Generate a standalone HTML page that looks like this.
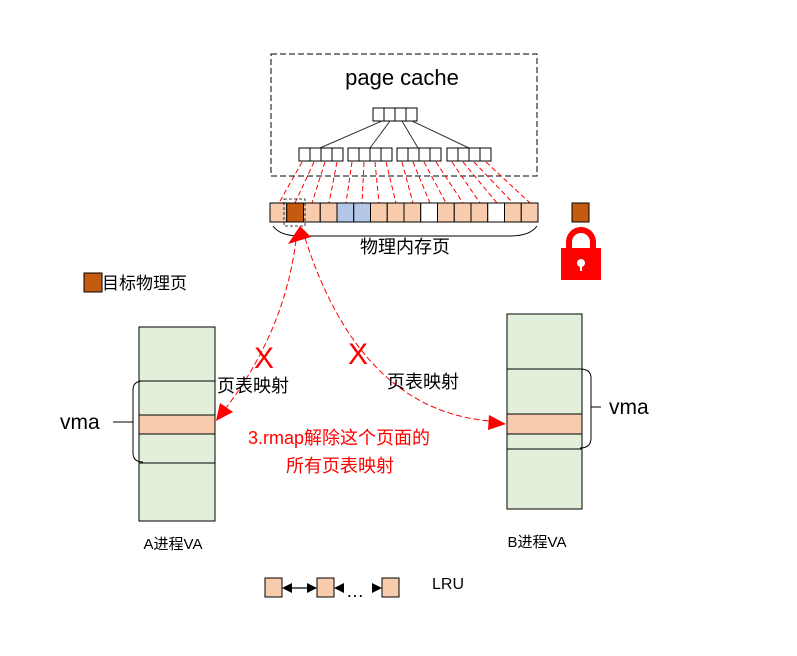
<!DOCTYPE html>
<html><head><meta charset="utf-8"><style>body{margin:0;background:#fff}</style></head><body>
<svg width="797" height="651" xmlns="http://www.w3.org/2000/svg" font-family="Liberation Sans, Noto Sans CJK SC, sans-serif">
<rect x="271" y="54" width="266" height="122" fill="none" stroke="#000" stroke-dasharray="6,3"/>
<text x="402" y="85" font-size="22" text-anchor="middle">page cache</text>
<g fill="#fff" stroke="#000">
<rect x="373" y="108" width="11" height="13"/><rect x="384" y="108" width="11" height="13"/><rect x="395" y="108" width="11" height="13"/><rect x="406" y="108" width="11" height="13"/>
</g>
<g stroke="#333"><line x1="382" y1="121" x2="320" y2="148"/><line x1="390" y1="121" x2="370" y2="148"/><line x1="402" y1="121" x2="418" y2="148"/><line x1="412" y1="121" x2="469" y2="148"/></g>
<g fill="#fff" stroke="#000">
<rect x="299" y="148" width="11" height="13"/><rect x="310" y="148" width="11" height="13"/><rect x="321" y="148" width="11" height="13"/><rect x="332" y="148" width="11" height="13"/>
<rect x="348" y="148" width="11" height="13"/><rect x="359" y="148" width="11" height="13"/><rect x="370" y="148" width="11" height="13"/><rect x="381" y="148" width="11" height="13"/>
<rect x="397" y="148" width="11" height="13"/><rect x="408" y="148" width="11" height="13"/><rect x="419" y="148" width="11" height="13"/><rect x="430" y="148" width="11" height="13"/>
<rect x="447" y="148" width="11" height="13"/><rect x="458" y="148" width="11" height="13"/><rect x="469" y="148" width="11" height="13"/><rect x="480" y="148" width="11" height="13"/>
</g>
<g stroke="#f00" stroke-dasharray="5,3" stroke-width="1">
<line x1="302" y1="162" x2="279" y2="203"/><line x1="314" y1="162" x2="295" y2="203"/><line x1="325" y1="162" x2="312" y2="203"/><line x1="337" y1="162" x2="329" y2="203"/>
<line x1="352" y1="162" x2="346" y2="203"/><line x1="364" y1="162" x2="362" y2="203"/><line x1="375" y1="162" x2="379" y2="203"/><line x1="386" y1="162" x2="396" y2="203"/>
<line x1="402" y1="162" x2="413" y2="203"/><line x1="413" y1="162" x2="430" y2="203"/><line x1="424" y1="162" x2="446" y2="203"/><line x1="436" y1="162" x2="463" y2="203"/>
<line x1="452" y1="162" x2="480" y2="203"/><line x1="463" y1="162" x2="497" y2="203"/><line x1="474" y1="162" x2="513" y2="203"/><line x1="486" y1="162" x2="530" y2="203"/>
</g>
<g stroke="#000">
<rect x="270" y="203" width="16.75" height="19" fill="#f8cbad"/>
<rect x="286.75" y="203" width="16.75" height="19" fill="#c55a11"/>
<rect x="303.5" y="203" width="16.75" height="19" fill="#f8cbad"/>
<rect x="320.25" y="203" width="16.75" height="19" fill="#f8cbad"/>
<rect x="337" y="203" width="16.75" height="19" fill="#b4c7e7"/>
<rect x="353.75" y="203" width="16.75" height="19" fill="#b4c7e7"/>
<rect x="370.5" y="203" width="16.75" height="19" fill="#f8cbad"/>
<rect x="387.25" y="203" width="16.75" height="19" fill="#f8cbad"/>
<rect x="404" y="203" width="16.75" height="19" fill="#f8cbad"/>
<rect x="420.75" y="203" width="16.75" height="19" fill="#fff"/>
<rect x="437.5" y="203" width="16.75" height="19" fill="#f8cbad"/>
<rect x="454.25" y="203" width="16.75" height="19" fill="#f8cbad"/>
<rect x="471" y="203" width="16.75" height="19" fill="#f8cbad"/>
<rect x="487.75" y="203" width="16.75" height="19" fill="#fff"/>
<rect x="504.5" y="203" width="16.75" height="19" fill="#f8cbad"/>
<rect x="521.25" y="203" width="16.75" height="19" fill="#f8cbad"/>
<rect x="572" y="203" width="17" height="19" fill="#c55a11"/>
</g>
<rect x="284" y="199" width="21" height="27" fill="none" stroke="#000" stroke-dasharray="3,2" stroke-width="0.8"/>
<path d="M273,226 Q280,236 300,236 L510,236 Q530,236 537,226" fill="none" stroke="#000"/>
<text x="405" y="253" font-size="18" text-anchor="middle">物理内存页</text>
<path d="M569,248 V242 A12,12 0 0 1 593,242 V248" fill="none" stroke="#f00" stroke-width="6"/>
<rect x="561" y="248" width="40" height="32" fill="#f00"/>
<circle cx="581" cy="263" r="4" fill="#fff"/><rect x="580" y="263" width="2" height="8" fill="#fff"/>
<rect x="84" y="273" width="18" height="19" fill="#c55a11" stroke="#000"/>
<text x="102" y="289" font-size="17">目标物理页</text>
<g stroke="#000">
<rect x="139" y="327" width="76" height="194" fill="#e2efda"/>
<rect x="139" y="415" width="76" height="19" fill="#f8cbad"/>
<line x1="139" y1="381" x2="215" y2="381"/><line x1="139" y1="463" x2="215" y2="463"/>
<rect x="507" y="314" width="75" height="195" fill="#e2efda"/>
<rect x="507" y="414" width="75" height="20" fill="#f8cbad"/>
<line x1="507" y1="369" x2="582" y2="369"/><line x1="507" y1="449" x2="582" y2="449"/>
</g>
<path d="M143,381 Q133,381 133,390 L133,453 Q133,462 143,462" fill="none" stroke="#000"/>
<line x1="113" y1="422" x2="133" y2="422" stroke="#000"/>
<path d="M580,369 Q591,369 591,378 L591,438 Q591,448 580,448" fill="none" stroke="#000"/>
<line x1="591" y1="407" x2="601" y2="407" stroke="#000"/>
<text x="60" y="429" font-size="21">vma</text>
<text x="609" y="414" font-size="21">vma</text>
<path d="M296,240 Q285,330 226,408" fill="none" stroke="#f00" stroke-dasharray="6,3"/>
<path d="M305,238 Q360,410 490,421" fill="none" stroke="#f00" stroke-dasharray="6,3"/>
<path d="M300,226 L288,244 L311,237 z" fill="#f00"/>
<path d="M216,421 L220,403 L233,412 z" fill="#f00"/>
<path d="M506,424 L489,415 L488,430 z" fill="#f00"/>
<text x="264" y="368" font-size="30" fill="#f00" text-anchor="middle">X</text>
<text x="358" y="364" font-size="30" fill="#f00" text-anchor="middle">X</text>
<text x="217" y="392" font-size="18">页表映射</text>
<text x="387" y="388" font-size="18">页表映射</text>
<text x="339" y="444" font-size="18" fill="#f00" text-anchor="middle">3.rmap解除这个页面的</text>
<text x="340" y="472" font-size="18" fill="#f00" text-anchor="middle">所有页表映射</text>
<text x="173" y="549" font-size="15" text-anchor="middle">A进程VA</text>
<text x="537" y="547" font-size="15" text-anchor="middle">B进程VA</text>
<g stroke="#000" fill="#f8cbad">
<rect x="265" y="578" width="17" height="19"/><rect x="317" y="578" width="17" height="19"/><rect x="382" y="578" width="17" height="19"/>
</g>
<line x1="284" y1="588" x2="315" y2="588" stroke="#000" stroke-width="1.3"/>
<path d="M282,588 l10,-5 v10 z M317,588 l-10,-5 v10 z M334,588 l10,-5 v10 z M382,588 l-10,-5 v10 z" fill="#000"/>
<text x="346" y="597" font-size="18">…</text>
<text x="432" y="589" font-size="16">LRU</text>
</svg>
</body></html>
